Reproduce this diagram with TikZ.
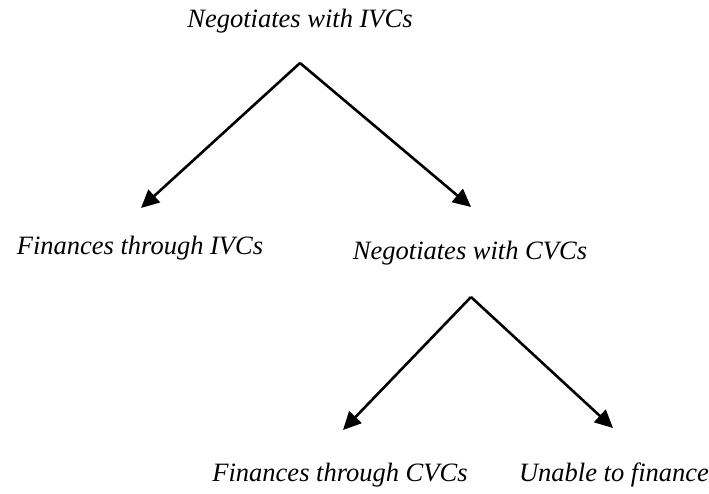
\documentclass[tikz,border=0pt]{standalone}
\usepackage{fontspec}
\setmainfont{Liberation Serif}
\usetikzlibrary{arrows.meta}
\begin{document}
\begin{tikzpicture}[x=1pt,y=-1pt,
  label/.style={inner sep=0pt,anchor=base,font=\fontsize{26.5}{30}\selectfont\itshape},
  branch/.style={line width=2.6pt,-{Triangle[length=18pt,width=17pt]}}]
\useasboundingbox (0,0) rectangle (709,493);
% decision labels
\node[label] (top)   at (300,27)  {Negotiates with IVCs};
\node[label] (fivc)  at (140,254) {Finances through IVCs};
\node[label] (ncvc)  at (470,259) {Negotiates with CVCs};
\node[label] (fcvc)  at (340,481) {Finances through CVCs};
\node[label] (unab)  at (614,481) {Unable to finance};
% branch points and arrow ends
\coordinate (apexA) at (300,63);
\coordinate (tipAL) at (141,208);
\coordinate (tipAR) at (471,207);
\coordinate (apexB) at (471,297);
\coordinate (tipBL) at (343,430);
\coordinate (tipBR) at (613,428);
\draw[branch] (apexA) -- (tipAL);
\draw[branch] (apexA) -- (tipAR);
\draw[branch] (apexB) -- (tipBL);
\draw[branch] (apexB) -- (tipBR);
\end{tikzpicture}
\end{document}
